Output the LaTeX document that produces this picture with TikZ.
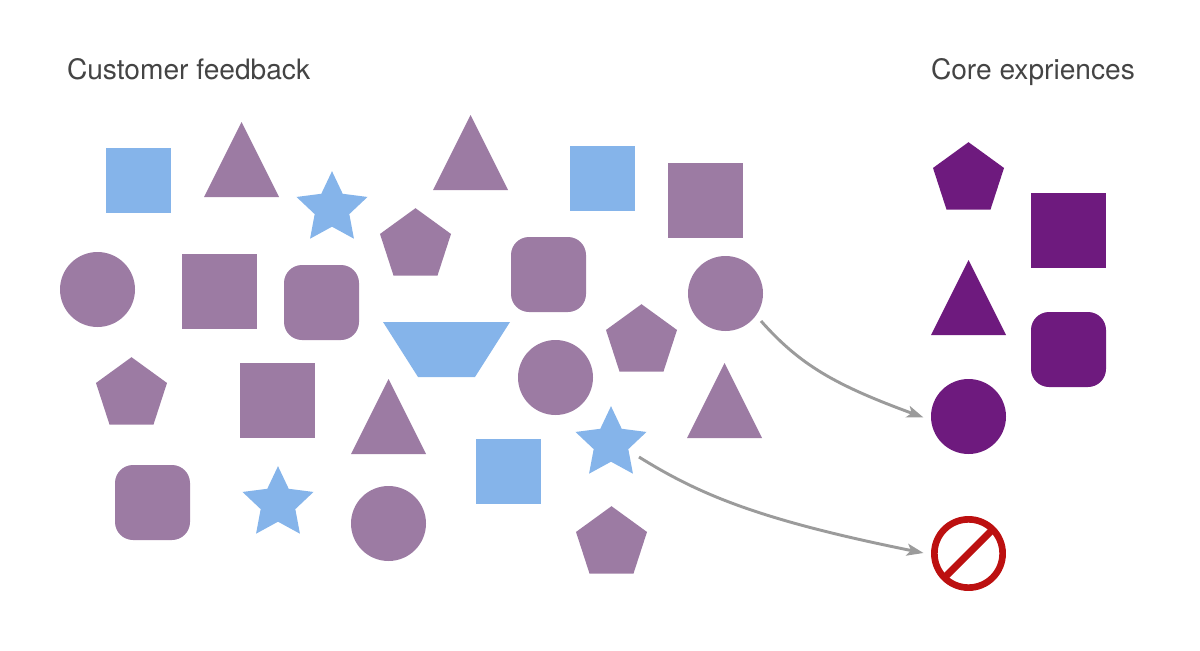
\documentclass[tikz,border=0pt]{standalone}
\usepackage{fontspec}
\setmainfont{TeX Gyre Heros}
\usetikzlibrary{shapes.geometric,arrows.meta}
\definecolor{mauve}{HTML}{9C7BA3}
\definecolor{skyb}{HTML}{85B4EA}
\definecolor{deep}{HTML}{6E1A7E}
\definecolor{flow}{HTML}{9B9B9B}
\definecolor{stopred}{HTML}{BC1010}
\definecolor{ink}{HTML}{444444}
\tikzset{
  item/.style={inner sep=0pt,outer sep=0pt,draw=none},
  sq/.style={item,rectangle,minimum size=56.25pt},
  bluesq/.style={item,rectangle,minimum size=48.75pt,fill=skyb},
  rsq/.style={item,rectangle,minimum size=56.25pt,rounded corners=13.5pt},
  circ/.style={item,circle,minimum size=56.25pt},
  pent/.style={item,regular polygon,regular polygon sides=5,minimum size=56pt},
  bluestar/.style={item,star,star points=5,star point ratio=2.05,minimum size=56pt,fill=skyb},
  label/.style={inner sep=0pt,outer sep=0pt,anchor=base west,text=ink,font=\fontsize{21.1pt}{25pt}\selectfont},
  flowline/.style={draw=flow,line width=2.2pt,-{Stealth[length=12.5pt,width=9pt,inset=3pt]}}
}
\newcommand{\tria}[4]{\fill[#4] (#2,#3) -- ++(37.5,75) -- ++(-75,0) -- cycle; \coordinate (#1) at (#2,#3+37.5);}
\begin{document}
\begin{tikzpicture}[x=0.75pt,y=-0.75pt]
\useasboundingbox (0,0) rectangle (1200,650);
\node[label] (t1) at (67,79) {Customer feedback};
\node[label] (t2) at (931,79) {Core expriences};
% left cloud
\node[bluesq] (s1) at (138.5,180.5) {};
\tria{a1}{241.5}{122}{mauve}
\node[bluestar] (b1) at (332,208.5) {};
\tria{a2}{470.5}{115}{mauve}
\node[bluesq] (s2) at (602.5,178.5) {};
\node[sq,fill=mauve] (s3) at (705.5,200.5) {};
\node[circ,fill=mauve] (c1) at (97.5,289.5) {};
\node[sq,fill=mauve] (s4) at (219.5,291.5) {};
\node[rsq,fill=mauve] (r1) at (321.5,302.5) {};
\node[pent,fill=mauve] (p1) at (415.5,245.5) {};
\node[rsq,fill=mauve] (r2) at (548.5,274.5) {};
\node[circ,fill=mauve] (c2) at (725.5,293.5) {};
\fill[skyb] (383,322) -- (510,322) -- (475,377) -- (418,377) -- cycle;
\coordinate (z1) at (446.5,349.5);
\node[pent,fill=mauve] (p2) at (641.5,341.5) {};
\node[circ,fill=mauve] (c3) at (555.5,377.5) {};
\node[pent,fill=mauve] (p3) at (131.5,394.5) {};
\node[sq,fill=mauve] (s5) at (277.5,400.5) {};
\tria{a3}{388.5}{379}{mauve}
\tria{a4}{724.5}{363}{mauve}
\node[bluestar] (b2) at (611,443.5) {};
\node[bluesq] (s6) at (508.5,471.5) {};
\node[pent,fill=mauve] (p4) at (611.5,543.5) {};
\node[rsq,fill=mauve] (r3) at (152.5,502.5) {};
\node[bluestar] (b3) at (278,503.5) {};
\node[circ,fill=mauve] (c4) at (388.5,523.5) {};
% right column
\node[pent,fill=deep] (p5) at (968.5,179.5) {};
\node[sq,fill=deep] (s7) at (1068.5,230.5) {};
\tria{a5}{968.5}{260}{deep}
\node[rsq,fill=deep] (r4) at (1068.5,349.5) {};
\node[circ,fill=deep] (c5) at (968.5,416.5) {};
\node[item,circle,minimum size=51.2pt,draw=stopred,line width=5pt] (no) at (968.5,553.5) {};
\draw[stopred,line width=5.3pt] (no.center) ++(-23,23) coordinate (n1) -- (no.center) -- ++(23,-23) coordinate (n2);
% connectors
\coordinate (f1) at (761,321);
\coordinate (e1) at (923.5,417.5);
\coordinate (f2) at (639,457);
\coordinate (e2) at (923.5,553);
\draw[flowline] (f1) .. controls (800,365) and (835,385) .. (e1);
\draw[flowline] (f2) .. controls (700,495) and (760,520) .. (e2);
\end{tikzpicture}
\end{document}
